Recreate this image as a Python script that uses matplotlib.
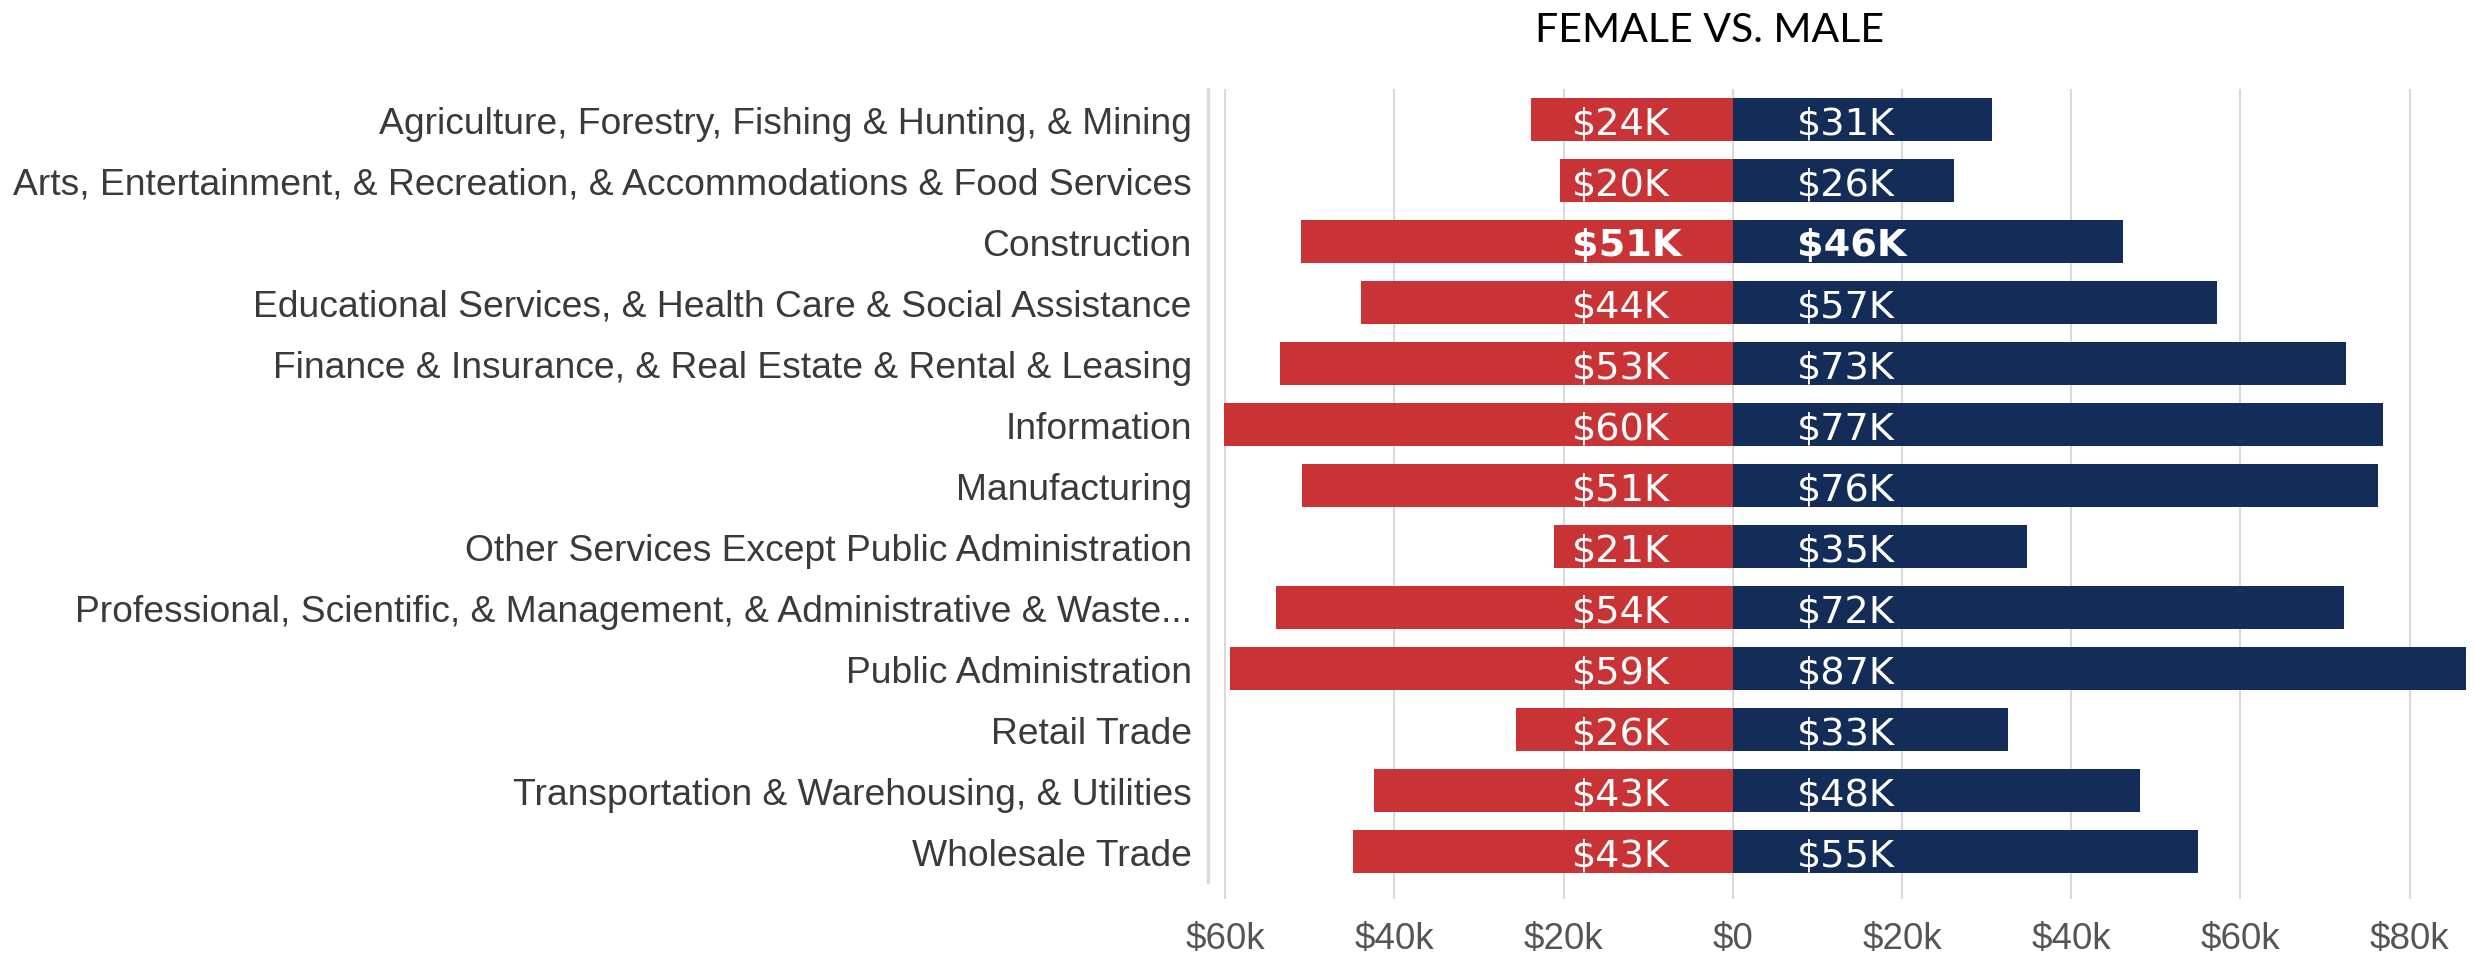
import matplotlib
matplotlib.use("Agg")
import matplotlib.pyplot as plt
import numpy as np

industries = [
    "Agriculture, Forestry, Fishing & Hunting, & Mining",
    "Arts, Entertainment, & Recreation, & Accommodations & Food Services",
    "Construction",
    "Educational Services, & Health Care & Social Assistance",
    "Finance & Insurance, & Real Estate & Rental & Leasing",
    "Information",
    "Manufacturing",
    "Other Services Except Public Administration",
    "Professional, Scientific, & Management, & Administrative & Waste...",
    "Public Administration",
    "Retail Trade",
    "Transportation & Warehousing, & Utilities",
    "Wholesale Trade",
]
female = [23.9, 20.4, 51.0, 43.9, 53.5, 60.2, 50.9, 21.1, 54.0, 59.4, 25.6, 42.4, 44.9]
male = [30.6, 26.1, 46.1, 57.2, 72.5, 76.8, 76.3, 34.8, 72.2, 86.6, 32.5, 48.1, 55.0]
female_labels = ["$24K", "$20K", "$51K", "$44K", "$53K", "$60K", "$51K", "$21K",
                 "$54K", "$59K", "$26K", "$43K", "$43K"]
male_labels = ["$31K", "$26K", "$46K", "$57K", "$73K", "$77K", "$76K", "$35K",
               "$72K", "$87K", "$33K", "$48K", "$55K"]
bold_rows = ["Construction"]
xticks = [-60, -40, -20, 0, 20, 40, 60, 80]
xticklabels = ["$60k", "$40k", "$20k", "$0", "$20k", "$40k", "$60k", "$80k"]
title = "FEMALE VS. MALE"

RED = "#C93335"
NAVY = "#142D58"
GRID = "#DADADA"

W, H = 2474, 962
fig = plt.figure(figsize=(W / 100, H / 100), dpi=100)
ax = fig.add_axes([1208.3 / W, 1 - 883 / H, 1 - 1208.3 / W, (883 - 90) / H])

y = np.arange(len(industries))
ax.barh(y, [-v for v in female], height=0.705, color=RED, zorder=2)
ax.barh(y, male, height=0.705, color=NAVY, zorder=2)

for i, name in enumerate(industries):
    w = "bold" if name in bold_rows else "normal"
    ax.text(-19.0, i, female_labels[i], color="white", ha="left", va="center_baseline",
            fontsize=27.5, family="DejaVu Sans", fontweight=w, zorder=3)
    ax.text(7.6, i, male_labels[i], color="white", ha="left", va="center_baseline",
            fontsize=27.5, family="DejaVu Sans", fontweight=w, zorder=3)

ax.set_xlim(-62.0, 87.6)
ax.set_ylim(len(industries) - 0.5, -0.5)
ax.set_yticks(y)
ax.set_yticklabels(industries, fontsize=26.8, color="#3a3a3a", family="Liberation Sans")
ax.set_xticks(xticks)
ax.set_xticklabels(xticklabels, fontsize=26.5, color="#555555", family="Liberation Sans")
ax.tick_params(axis="y", length=0, pad=12)
ax.tick_params(axis="x", length=12, width=1.5, color=GRID, pad=16)
ax.grid(axis="x", color=GRID, linewidth=1.5, zorder=0)
ax.set_axisbelow(True)
for s in ["top", "right", "bottom"]:
    ax.spines[s].set_visible(False)
ax.spines["left"].set_color(GRID)
ax.spines["left"].set_linewidth(2.5)

fig.text(1709.5 / W, 1 - 30 / H, title, ha="center", va="center", fontsize=29.5,
         family="Lato", color="black")

fig.savefig("out.png", dpi=100)
